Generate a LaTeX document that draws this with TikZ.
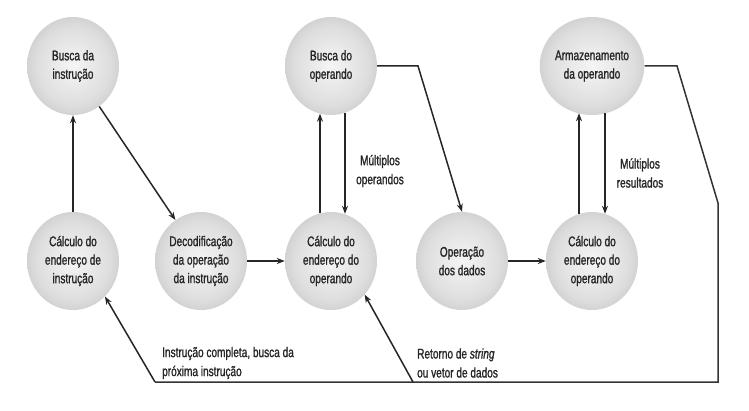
\documentclass[tikz,border=0pt]{standalone}
\usepackage{fontspec}
\setmainfont{Liberation Sans}[FakeStretch=0.72,FakeBold=1.2]
\usetikzlibrary{shapes.geometric,arrows.meta,calc}
\pgfdeclareradialshading{ballgray}{\pgfpoint{0bp}{0bp}}{color(0bp)=(black!4); color(20bp)=(black!13); color(50bp)=(black!40)}
\begin{document}
\begin{tikzpicture}[x=1pt,y=-1pt,
  stagenode/.style={ellipse, minimum width=92pt, minimum height=98pt, inner sep=0pt,
    shading=ballgray, align=center, font=\fontsize{14}{18.5}\selectfont, text=black!85},
  flow/.style={line width=1.5pt, draw=black!85, -{Stealth[length=8pt,width=6pt]}},
  plain/.style={line width=1.5pt, draw=black!80},
  lbl/.style={font=\fontsize{14}{19}\selectfont, text=black!85, inner sep=0pt}]
\useasboundingbox (0,0) rectangle (749,411);
% nodes
\node[stagenode] (bi) at (73,66) {Busca da\\instrução};
\node[stagenode] (bo) at (331,66) {Busca do\\operando};
\node[stagenode] (ar) at (592,66) {Armazenamento\\da operando};
\node[stagenode] (ci) at (73,261) {Cálculo do\\endereço de\\instrução};
\node[stagenode] (de) at (201,261) {Decodificação\\da operação\\da instrução};
\node[stagenode] (co) at (331,261) {Cálculo do\\endereço do\\operando};
\node[stagenode] (od) at (462,261) {Operação\\dos dados};
\node[stagenode] (cr) at (592,261) {Cálculo do\\endereço do\\operando};
% helper coordinates
\coordinate (k1) at (418,66);
\coordinate (k2) at (677,66);
\coordinate (k3) at (718,203);
\coordinate (k4) at (718,382);
\coordinate (k5) at (155,382);
\coordinate (k6) at (413,382);
% connectors
\draw[flow] (ci.north) -- (bi.south);
\draw[flow] (bi.-57) -- (de.122);
\draw[flow] (de.east) -- (co.west);
\draw[flow] ($(co.north)+(-11,1.5)$) -- ($(bo.south)+(-11,-1.5)$);
\draw[flow] ($(bo.south)+(14,-2)$) -- ($(co.north)+(14,2)$);
\draw[flow] (bo.east) -- (k1) -- (od.north);
\draw[flow] (od.east) -- (cr.west);
\draw[flow] ($(cr.north)+(-13,2)$) -- ($(ar.south)+(-13,-2)$);
\draw[flow] ($(ar.south)+(13,-2)$) -- ($(cr.north)+(13,2)$);
\draw[plain] (ar.east) -- (k2) -- (k3) -- (k4) -- (k5);
\draw[flow] (k5) -- (ci.-48);
\draw[flow] (k6) -- (co.-45);
% labels
\node[lbl, align=center] (m1) at (380,171) {Múltiplos\\operandos};
\node[lbl, align=center] (m2) at (640,173) {Múltiplos\\resultados};
\node[lbl, align=left, anchor=west] (t1) at (162,363) {Instrução completa, busca da\\próxima instrução};
\node[lbl, align=left, anchor=west] (t2) at (417,363) {Retorno de \textit{string}\\ou vetor de dados};
\end{tikzpicture}
\end{document}
